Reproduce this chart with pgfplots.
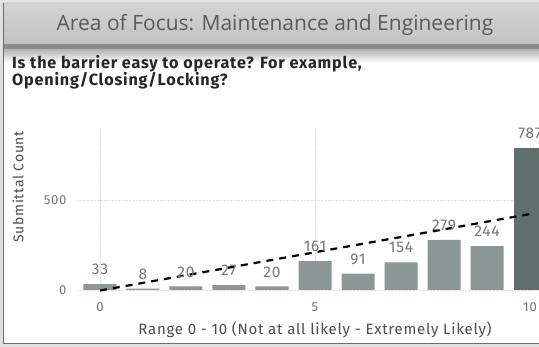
\documentclass[border=0pt]{standalone}
\usepackage{pgfplots}
\pgfplotsset{compat=1.18}
\usepackage{fontspec}
\setmainfont{Open Sans}
\newfontfamily\dinfont[LetterSpace=5]{Fira Sans}

\definecolor{barlight}{HTML}{8B9895}
\definecolor{bardark}{HTML}{5E706C}
\definecolor{labelgray}{HTML}{767676}
\definecolor{titlegray}{HTML}{5A5A5A}
\definecolor{framegray}{HTML}{6E6E6E}

\begin{document}
\begin{tikzpicture}[x=1pt,y=1pt]
% page background and visual frame
\fill[white] (0,0) rectangle (539,347);
\fill[black!12] (0,0) rectangle (3,347);
\fill[black!12] (0,0) rectangle (539,3);
\fill[black!10] (0,344) rectangle (539,347);
% title bar
\shade[top color=black!17, bottom color=black!24] (3,303) rectangle (539,344);
\fill[black!45] (3,297) rectangle (539,303);
\shade[top color=black!28, bottom color=white] (3,284) rectangle (539,297);
\draw[framegray, line width=1.2] (3.6,3) -- (3.6,344);
\draw[framegray, line width=1.2] (3,3.6) -- (539,3.6);
\node[text=titlegray, font=\fontsize{21}{25}\selectfont] at (275,322)
  {Area of Focus: Maintenance and Engineering};
% visual title
\node[anchor=north west, align=left, inner sep=0, text=black!85,
      font=\dinfont\bfseries\fontsize{16.2}{17}\selectfont] at (12,292)
  {Is the barrier easy to operate? For example,\\Opening/Closing/Locking?};

\begin{axis}[
  at={(78.5pt,57pt)}, anchor=south west,
  scale only axis, x=43pt, y=0.18pt,
  xmin=-0.5, xmax=10.5, ymin=0, ymax=900,
  axis line style={draw=none}, tick style={draw=none},
  xtick={0,5,10}, ytick={0,500},
  /pgf/number format/assume math mode=true,
  grid=major,
  major grid style={densely dotted, black!12, line width=0.8pt},
  xticklabel style={font=\dinfont\fontsize{13}{15}\selectfont, text=labelgray,
                    anchor=center, inner sep=0, yshift=-17pt},
  yticklabel style={font=\dinfont\fontsize{13}{15}\selectfont, text=labelgray,
                    anchor=east, inner sep=0, xshift=-12pt},
  xlabel={Range 0 - 10 (Not at all likely - Extremely Likely)},
  ylabel={Submittal Count},
  xlabel style={at={(axis description cs:0.5,0)}, anchor=center, yshift=-40pt,
                font=\dinfont\fontsize{15}{17}\selectfont, text=black!70},
  ylabel style={at={(axis description cs:-0.128,0.636)}, anchor=center,
                font=\dinfont\fontsize{14}{16}\selectfont, text=black!70},
  clip=false,
  every node near coord/.append style={font=\dinfont\fontsize{15.5}{17}\selectfont,
                    text=labelgray, anchor=south, inner sep=0, yshift=9pt},
]
\addplot[ybar, bar width=33pt, bar shift=0pt, fill=barlight, draw=none,
         nodes near coords]
  coordinates {(0,33) (1,8) (2,20) (3,27) (4,20) (5,161) (6,91) (7,154) (8,279) (9,244)};
\addplot[ybar, bar width=33pt, bar shift=0pt, fill=bardark, draw=none,
         nodes near coords]
  coordinates {(10,787)};
% linear trend line
\addplot[sharp plot, black, line width=2.2pt, dash pattern=on 7pt off 6pt]
  coordinates {(0,-3) (10,422)};
\end{axis}
\pgfresetboundingbox
\useasboundingbox (0,0) rectangle (539,347);
\end{tikzpicture}
\end{document}
